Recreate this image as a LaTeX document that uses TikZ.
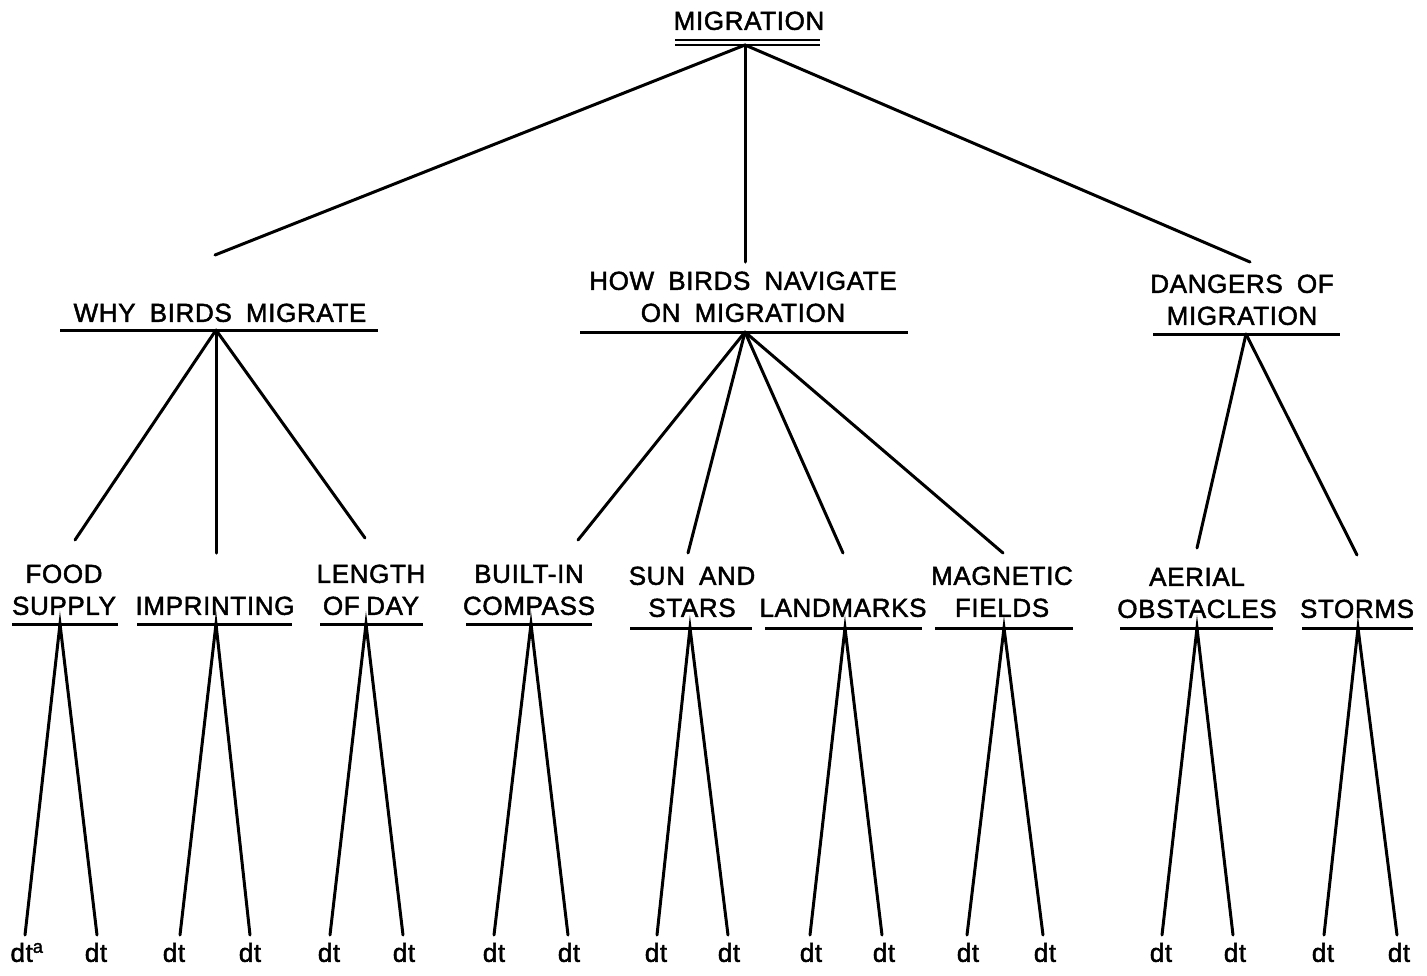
\documentclass[tikz,border=0pt]{standalone}
\usepackage{fontspec}
\setmainfont{Liberation Sans}[WordSpace=1.8,LetterSpace=2.5,FakeBold=1.8]
\begin{document}
\begin{tikzpicture}[x=1pt,y=-1pt,
  lbl/.style={anchor=south,inner sep=0pt,text depth=0pt,align=center,font=\fontsize{26}{32}\selectfont},
  leaf/.style={anchor=south,inner sep=0pt,text depth=0pt,font=\fontsize{26}{30}\selectfont},
  ul/.style={line width=3pt},
  edge/.style={line width=3pt,line cap=round}]
\useasboundingbox[fill=white] (0,0) rectangle (1427,975);
% ---- root
\node[lbl] (mig) at (749,30) {MIGRATION};
\coordinate (migL) at (675,40); \coordinate (migR) at (820,40);
\coordinate (migL2) at (675,45); \coordinate (migR2) at (820,45);
\draw[line width=2.2pt] (migL) -- (migR);
\draw[line width=2.2pt] (migL2) -- (migR2);
\coordinate (migA) at (745,45);
% ---- level 2
\node[lbl] (why) at (220,322) {WHY BIRDS MIGRATE};
\node[lbl] (how) at (743,322) {HOW BIRDS NAVIGATE\\ON MIGRATION};
\node[lbl] (dan) at (1242,325) {DANGERS OF\\MIGRATION};
\coordinate (whyL) at (60,330); \coordinate (whyR) at (378,330); \coordinate (whyA) at (216,330);
\coordinate (howL) at (580,332); \coordinate (howR) at (908,332); \coordinate (howA) at (745,332);
\coordinate (danL) at (1153,334); \coordinate (danR) at (1340,334); \coordinate (danA) at (1246,334);
\draw[ul] (whyL) -- (whyR);
\draw[ul] (howL) -- (howR);
\draw[ul] (danL) -- (danR);
\coordinate (whyT) at (215,255); \coordinate (howT) at (745,262); \coordinate (danT) at (1250,262);
\draw[edge] (migA) -- (whyT);
\draw[edge] (migA) -- (howT);
\draw[edge] (migA) -- (danT);
% ---- level 3
\node[lbl] (food) at (64,615) {FOOD\\SUPPLY};
\node[lbl] (impr) at (215,615) {IMPRINTING};
\node[lbl] (len)  at (371,615) {LENGTH\\OF\hspace{0.25em}DAY};
\node[lbl] (blt)  at (529,615) {BUILT-IN\\COMPASS};
\node[lbl] (sun)  at (692,617) {SUN AND\\STARS};
\node[lbl] (land) at (843,617) {LANDMARKS};
\node[lbl] (magn) at (1002,617) {MAGNETIC\\FIELDS};
\node[lbl] (aer)  at (1197,618) {AERIAL\\OBSTACLES};
\node[lbl] (sto)  at (1357,618) {STORMS};
% underlines
\coordinate (foodL) at (12,624);   \coordinate (foodR) at (118,624);
\coordinate (imprL) at (137,624);  \coordinate (imprR) at (292,624);
\coordinate (lenL)  at (320,624);  \coordinate (lenR)  at (423,624);
\coordinate (bltL)  at (466,624);  \coordinate (bltR)  at (592,624);
\coordinate (sunL)  at (630,628);  \coordinate (sunR)  at (752,628);
\coordinate (landL) at (765,628);  \coordinate (landR) at (922,628);
\coordinate (magnL) at (935,628);  \coordinate (magnR) at (1073,628);
\coordinate (aerL)  at (1120,628); \coordinate (aerR)  at (1273,628);
\coordinate (stoL)  at (1302,628); \coordinate (stoR)  at (1413,628);
\foreach \n in {food,impr,len,blt,sun,land,magn,aer,sto}{\draw[ul] (\n L) -- (\n R);}
% tops of connectors
\coordinate (foodT) at (75,540);
\coordinate (imprT) at (216,553);
\coordinate (lenT)  at (365,538);
\coordinate (bltT)  at (578,540);
\coordinate (sunT)  at (688,553);
\coordinate (landT) at (843,553);
\coordinate (magnT) at (1003,553);
\coordinate (aerT)  at (1197,548);
\coordinate (stoT)  at (1357,555);
\draw[edge] (whyA) -- (foodT);
\draw[edge] (whyA) -- (imprT);
\draw[edge] (whyA) -- (lenT);
\draw[edge] (howA) -- (bltT);
\draw[edge] (howA) -- (sunT);
\draw[edge] (howA) -- (landT);
\draw[edge] (howA) -- (magnT);
\draw[edge] (danA) -- (aerT);
\draw[edge] (danA) -- (stoT);
% apexes
\coordinate (foodA) at (60,624);
\coordinate (imprA) at (216,624);
\coordinate (lenA)  at (366,624);
\coordinate (bltA)  at (531,624);
\coordinate (sunA)  at (690,628);
\coordinate (landA) at (845,628);
\coordinate (magnA) at (1004,628);
\coordinate (aerA)  at (1197,628);
\coordinate (stoA)  at (1358,628);
% ---- leaves
\node[leaf] (d1)  at (27,962) {dt\textsuperscript{a}};
\node[leaf] (d2)  at (96,962) {dt};
\node[leaf] (d3)  at (174,962) {dt};
\node[leaf] (d4)  at (250,962) {dt};
\node[leaf] (d5)  at (329,962) {dt};
\node[leaf] (d6)  at (404,962) {dt};
\node[leaf] (d7)  at (494,962) {dt};
\node[leaf] (d8)  at (569,962) {dt};
\node[leaf] (d9)  at (656,962) {dt};
\node[leaf] (d10) at (729,962) {dt};
\node[leaf] (d11) at (811,962) {dt};
\node[leaf] (d12) at (884,962) {dt};
\node[leaf] (d13) at (968,962) {dt};
\node[leaf] (d14) at (1045,962) {dt};
\node[leaf] (d15) at (1161,962) {dt};
\node[leaf] (d16) at (1235,962) {dt};
\node[leaf] (d17) at (1323,962) {dt};
\node[leaf] (d18) at (1399,962) {dt};
\coordinate (e1) at (25,935);   \coordinate (e2) at (97,935);
\coordinate (e3) at (180,935);  \coordinate (e4) at (250,935);
\coordinate (e5) at (330,935);  \coordinate (e6) at (403,935);
\coordinate (e7) at (494,935);  \coordinate (e8) at (568,935);
\coordinate (e9) at (657,935);  \coordinate (e10) at (728,935);
\coordinate (e11) at (810,935); \coordinate (e12) at (882,935);
\coordinate (e13) at (967,935); \coordinate (e14) at (1043,935);
\coordinate (e15) at (1162,935);\coordinate (e16) at (1233,935);
\coordinate (e17) at (1324,935);\coordinate (e18) at (1397,935);
\draw[edge] (e1) -- (foodA) -- (e2);
\draw[edge] (e3) -- (imprA) -- (e4);
\draw[edge] (e5) -- (lenA) -- (e6);
\draw[edge] (e7) -- (bltA) -- (e8);
\draw[edge] (e9) -- (sunA) -- (e10);
\draw[edge] (e11) -- (landA) -- (e12);
\draw[edge] (e13) -- (magnA) -- (e14);
\draw[edge] (e15) -- (aerA) -- (e16);
\draw[edge] (e17) -- (stoA) -- (e18);
\end{tikzpicture}
\end{document}
